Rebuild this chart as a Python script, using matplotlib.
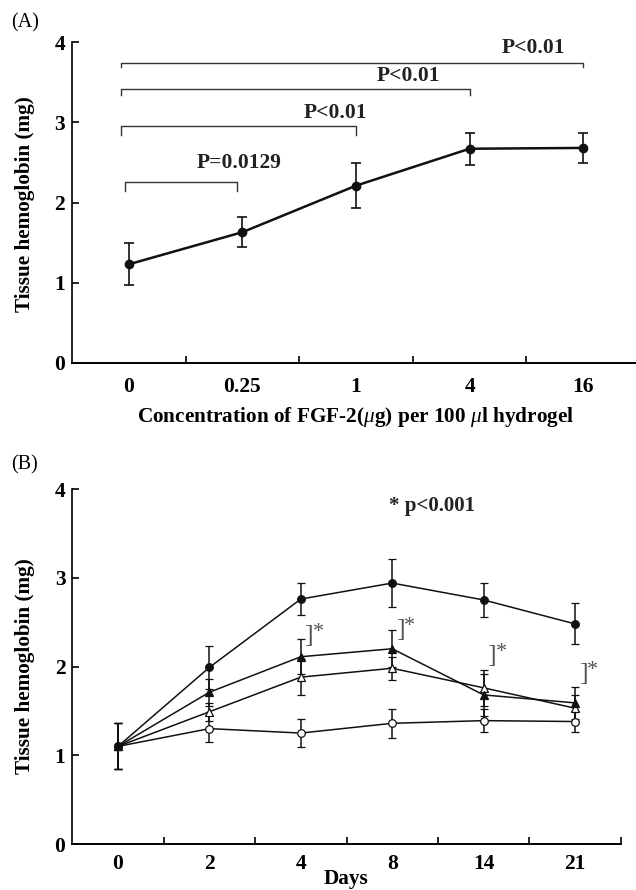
import matplotlib
matplotlib.use('Agg')
import matplotlib.pyplot as plt
import numpy as np

plt.rcParams['font.family'] = ['Liberation Serif', 'DejaVu Serif']
plt.rcParams['mathtext.fontset'] = 'custom'
plt.rcParams['mathtext.it'] = 'Liberation Serif:italic'
plt.rcParams['mathtext.rm'] = 'Liberation Serif'

# Painel A: dose de FGF-2
conc_labels = ['0', '0.25', '1', '4', '16']
hb_dose = [1.23, 1.63, 2.21, 2.67, 2.68]
hb_dose_err = [0.26, 0.19, 0.28, 0.20, 0.19]

# comparacoes (inicio, fim, altura, texto)
comp_start = [-0.07, -0.07, -0.07, -0.035]
comp_end = [4.0, 3.0, 2.0, 0.95]
comp_y = [3.74, 3.41, 2.95, 2.26]
comp_text = ['P<0.01', 'P<0.01', 'P<0.01', 'P=0.0129']

# Painel B: curso temporal
days = ['0', '2', '4', '8', '14', '21']
hb_filled_circle = [1.10, 1.99, 2.76, 2.94, 2.75, 2.48]
err_filled_circle = [0.26, 0.24, 0.18, 0.27, 0.19, 0.23]
hb_filled_tri = [1.10, 1.71, 2.11, 2.20, 1.68, 1.59]
err_filled_tri = [0.26, 0.15, 0.20, 0.21, 0.24, 0.18]
hb_open_tri = [1.10, 1.49, 1.88, 1.98, 1.76, 1.53]
err_open_tri = [0.26, 0.10, 0.20, 0.13, 0.20, 0.15]
hb_open_circle = [1.10, 1.30, 1.25, 1.36, 1.39, 1.38]
err_open_circle = [0.26, 0.15, 0.16, 0.16, 0.13, 0.12]

star_idx = [2, 3, 4, 5]
star_y = [2.34, 2.41, 2.12, 1.91]

W, H = 636, 890
fig = plt.figure(figsize=(W / 100, H / 100), dpi=100)


def px(x, y, w, h):
    return [x / W, 1 - (y + h) / H, w / W, h / H]


def style_axes(ax, n):
    ax.spines['top'].set_visible(False)
    ax.spines['right'].set_visible(False)
    ax.spines['left'].set_linewidth(1.2)
    ax.spines['bottom'].set_linewidth(1.4)
    ax.set_xlim(-0.5, n - 0.5)
    ax.set_ylim(0, 4)
    ax.set_yticks([0, 1, 2, 3, 4])
    ax.set_xticks(np.arange(n - 1) + 0.5, minor=True)
    ax.tick_params(axis='x', which='major', length=0, labelsize=15.5)
    ax.tick_params(axis='x', which='minor', direction='in', length=5, width=1.2)
    ax.tick_params(axis='y', direction='in', length=5, width=1.2, pad=5, labelsize=15.5)
    for lab in ax.get_xticklabels() + ax.get_yticklabels():
        lab.set_fontweight('bold')


# ---------------- (A) ----------------
ax1 = fig.add_axes(px(72, 42, 568, 321))
x = np.arange(len(conc_labels))
ax1.errorbar(x, hb_dose, yerr=hb_dose_err, fmt='-o', color='#111111', ms=6,
             lw=1.8, elinewidth=1.2, capsize=3.5, capthick=1.2)
ax1.set_xticks(x)
ax1.set_xticklabels(conc_labels)
style_axes(ax1, len(conc_labels))
ax1.tick_params(axis='x', which='major', pad=10)
ax1.set_xticks(np.arange(len(conc_labels)) + 0.5, minor=True)
for lab in ax1.get_xticklabels() + ax1.get_yticklabels():
    lab.set_fontweight('bold')

drops = [0.05, 0.07, 0.11, 0.12]
text_x = [3.56, 2.46, 1.82, 0.97]
text_y = [3.93, 3.58, 3.12, 2.49]
for i in range(len(comp_text)):
    ax1.plot([comp_start[i], comp_start[i], comp_end[i], comp_end[i]],
             [comp_y[i] - drops[i], comp_y[i], comp_y[i], comp_y[i] - drops[i]],
             color='#333333', lw=1.0, clip_on=False)
    ax1.text(text_x[i], text_y[i], comp_text[i], ha='center', va='center',
             fontsize=15.5, fontweight='bold', color='#222222')

fig.text(11 / W, 1 - 23 / H, '(A)', fontsize=14.5, va='center', ha='left')
fig.text(25 / W, 1 - 204 / H, 'Tissue hemoglobin (mg)', rotation=90,
         ha='center', va='center', fontsize=15.3, fontweight='bold')
fig.text(356 / W, 1 - 417 / H,
         r'Concentration of FGF-2($\mathit{\mu}$g) per 100 $\mathit{\mu}$l hydrogel',
         ha='center', va='center', fontsize=15.3, fontweight='bold')

# ---------------- (B) ----------------
ax2 = fig.add_axes(px(72.3, 489, 548.4, 355))
xd = np.arange(len(days))
series = [
    (hb_open_circle, err_open_circle, 'o', 'white'),
    (hb_open_tri, err_open_tri, '^', 'white'),
    (hb_filled_tri, err_filled_tri, '^', '#111111'),
    (hb_filled_circle, err_filled_circle, 'o', '#111111'),
]
for vals, errs, mk, face in series:
    ax2.errorbar(xd, vals, yerr=errs, fmt='-' + mk, color='#111111', mfc=face,
                 mec='#111111', ms=5.5, lw=1.1, elinewidth=1.1, capsize=3,
                 capthick=1.1, mew=0.9)
ax2.set_xticks(xd)
ax2.set_xticklabels(days)
style_axes(ax2, len(days))
ax2.tick_params(axis='x', which='major', pad=7)
ax2.set_xticks(np.arange(len(days)) + 0.5, minor=True)
for lab in ax2.get_xticklabels() + ax2.get_yticklabels():
    lab.set_fontweight('bold')

for i, yv in zip(star_idx, star_y):
    ax2.text(i + 0.04, yv, ']', ha='left', va='center', fontsize=19,
             color='#555555')
    ax2.text(i + 0.13, yv + 0.04, '*', ha='left', va='center', fontsize=16,
             color='#555555')

ax2.text(3.44, 3.81, '* p<0.001', ha='center', va='center', fontsize=15,
         fontweight='bold', color='#222222')

fig.text(11 / W, 1 - 465 / H, '(B)', fontsize=14.5, va='center', ha='left')
fig.text(25 / W, 1 - 666 / H, 'Tissue hemoglobin (mg)', rotation=90,
         ha='center', va='center', fontsize=15.3, fontweight='bold')
fig.text(346 / W, 1 - 879 / H, 'Days', ha='center', va='center',
         fontsize=15.3, fontweight='bold')

fig.savefig('out.png', dpi=100)
